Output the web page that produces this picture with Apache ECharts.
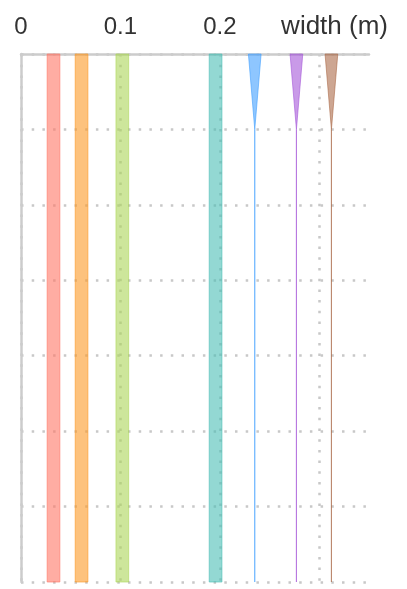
<!DOCTYPE html>
<html>
<head>
<meta charset="utf-8">
<script src="https://cdn.jsdelivr.net/npm/echarts@6/dist/echarts.min.js"></script>
<style>html,body{margin:0;padding:0;background:#fff}#c{width:407px;height:589px}</style>
</head>
<body>
<div id="c"></div>
<script>
// x positions (m) of each strip centre
const centers = [0.0327, 0.0609, 0.1019, 0.1957, 0.2351, 0.277, 0.3122];
// depth stations (arbitrary units, increasing downward)
const depths = [0, 1, 7];
// strip width (m) at each depth station, one list per strip
const widths = [
  [0.0128, 0.0128, 0.0128],
  [0.0128, 0.0128, 0.0128],
  [0.0128, 0.0128, 0.0128],
  [0.0128, 0.0128, 0.0128],
  [0.0128, 0, 0],
  [0.0128, 0, 0],
  [0.0128, 0, 0]
];
const colors = ['#ff7666', '#fb9926', '#abd558', '#4bbeb6', '#43a0ff', '#a557d9', '#ac6b49'];
const xTicks = [0, 0.1, 0.2];

function hexA(h, a) {
  const r = parseInt(h.slice(1,3),16), g = parseInt(h.slice(3,5),16), b = parseInt(h.slice(5,7),16);
  return 'rgba(' + r + ',' + g + ',' + b + ',' + a + ')';
}

const series = centers.map((c, i) => ({
  type: 'custom',
  data: [[c].concat(widths[i])],
  z: 3,
  renderItem: function (params, api) {
    const cx = api.value(0);
    const left = [], right = [];
    for (let k = 0; k < depths.length; k++) {
      const w = api.value(k + 1);
      left.push(api.coord([cx - w / 2, depths[k]]));
      right.push(api.coord([cx + w / 2, depths[k]]));
    }
    return {
      type: 'polygon',
      shape: { points: left.concat(right.reverse()) },
      style: { fill: hexA(colors[i], 0.6), stroke: hexA(colors[i], 0.6), lineWidth: 1 }
    };
  }
}));

const chart = echarts.init(document.getElementById('c'));
chart.setOption({
  animation: false,
  grid: { left: 21, right: 38, top: 54, bottom: 7 },
  xAxis: {
    type: 'value', position: 'top', min: 0, max: 0.35, interval: 0.1,
    name: 'width (m)', nameLocation: 'end', nameGap: 19,
    nameTextStyle: { fontSize: 26, color: '#333', align: 'right', verticalAlign: 'bottom', padding: [0, 0, 14, 0], fontFamily: 'Liberation Sans, Arial, sans-serif' },
    axisLine: { show: true, lineStyle: { color: '#ccc', width: 2.5 } },
    axisTick: { show: false },
    axisLabel: {
      fontSize: 24, color: '#333', margin: 15, fontFamily: 'Liberation Sans, Arial, sans-serif',
      showMaxLabel: false,
      formatter: v => xTicks.some(t => Math.abs(t - v) < 1e-9) ? String(v) : ''
    },
    splitLine: { show: true, showMaxLine: false, lineStyle: { color: '#c8c8c8', width: 2.5, type: [2.5, 8.2] } }
  },
  yAxis: {
    type: 'value', inverse: true, min: 0, max: 7, interval: 1,
    axisLine: { show: true, lineStyle: { color: '#ccc', width: 2.5 } },
    axisTick: { show: false },
    axisLabel: { show: false },
    splitLine: { show: true, lineStyle: { color: '#c8c8c8', width: 2.5, type: [2.5, 8.2] } }
  },
  series: series
});
</script>
</body>
</html>
